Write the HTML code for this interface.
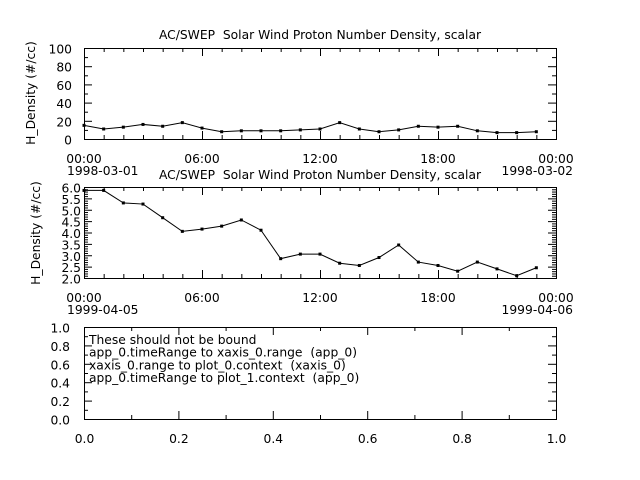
<!DOCTYPE html>
<html><head><style>body{margin:0;background:#fff}svg{display:block}text{font-family:"DejaVu Sans","Liberation Sans",sans-serif;font-size:12.3px;fill:#000}</style></head>
<body>
<svg id="s" width="640" height="480" xmlns="http://www.w3.org/2000/svg"></svg>
<script>
const s=document.getElementById('s');let h='';
const X0=84,X1=556,W=X1-X0;
function T(x,y,t,a,extra){h+=`<text x="${x}" y="${y}" text-anchor="${a||'start'}" ${extra||''}>${t}</text>`;}
function L(x1,y1,x2,y2){h+=`<line x1="${x1}" y1="${y1}" x2="${x2}" y2="${y2}" stroke="#000" stroke-width="1"/>`;}
function box(t,b){h+=`<rect x="${X0+.5}" y="${t+.5}" width="${W}" height="${b-t}" fill="none" stroke="#000"/>`;}
function timeAxis(b,date1,date2){
  const labs=['00:00','06:00','12:00','18:00','00:00'];
  for(let i=0;i<=24;i++){const x=X0+.5+W*i/24;L(x,b,x,b-(i%6==0?8:4));L(x,b-91,x,b-91+(i%6==0?8:4));}
  for(let i=0;i<5;i++){T(X0+W*i/4,b+24,labs[i],'middle');}
  T(X0-17,b+36,date1);T(X1+17,b+36,date2,'end');
}
function series(vals,fy){let p=vals.map((v,i)=>[X0+W*(i+.0)/24,fy(v)]);
 h+=`<polyline points="${p.map(q=>q.join(',')).join(' ')}" fill="none" stroke="#000" stroke-width="1"/>`;
 p.forEach(q=>h+=`<rect x="${q[0]-1.5}" y="${q[1]-1.5}" width="3" height="3" fill="#000"/>`);}
// plot 1
let t1=48,b1=139;box(t1,b1);
T(320,39,'AC/SWEP  Solar Wind Proton Number Density, scalar','middle','xml:space="preserve"');
for(let v=0;v<=100;v+=10){const y=b1-(b1-t1)*v/100+.5;L(X0,y,X0+(v%20==0?8:4),y);L(X1,y,X1-(v%20==0?8:4),y);if(v%20==0)T(X0-12,y+5,v,'end');}
timeAxis(b1,'1998-03-01','1998-03-02');
T(0,0,'H_Density (#/cc)','middle','transform="translate(35,93) rotate(-90)"');
series([15,11,13,16,14,18,12,8,9,9,9,10,11,18,11,8,10,14,13,14,9,7,7,8],v=>b1-(b1-t1)*v/100);
// plot 2
let t2=187,b2=278;box(t2,b2);
T(320,179,'AC/SWEP  Solar Wind Proton Number Density, scalar','middle','xml:space="preserve"');
for(let k=0;k<=40;k++){const v=2+k*0.1;const y=b2-(b2-t2)*k/40+.5;const big=k%5==0;L(X0,y,X0+(big?8:4),y);L(X1,y,X1-(big?8:4),y);if(big)T(X0-3,y+5,v.toFixed(1),'end');}
timeAxis(b2,'1999-04-05','1999-04-06');
T(0,0,'H_Density (#/cc)','middle','transform="translate(40,233) rotate(-90)"');
series([5.85,5.85,5.3,5.25,4.65,4.05,4.15,4.28,4.55,4.1,2.85,3.05,3.05,2.65,2.55,2.9,3.45,2.7,2.55,2.3,2.7,2.4,2.1,2.45],v=>b2-(b2-t2)*(v-2)/4);
// plot 3
let t3=327,b3=419;box(t3,b3);
for(let k=0;k<=10;k++){const y=b3-(b3-t3)*k/10+.5;const big=k%2==0;L(X0,y,X0+(big?8:4),y);L(X1,y,X1-(big?8:4),y);if(big)T(X0-14,y+5,(k/10).toFixed(1),'end');}
for(let k=0;k<=10;k++){const x=X0+W*k/10+.5;const big=k%2==0;L(x,b3,x,b3-(big?8:4));L(x,t3,x,t3+(big?8:4));if(big)T(x,b3+24,(k/10).toFixed(1),'middle');}
['These should not be bound','app_0.timeRange to xaxis_0.range  (app_0)','xaxis_0.range to plot_0.context  (xaxis_0)','app_0.timeRange to plot_1.context  (app_0)'].forEach((t,i)=>T(89,344+i*12.7,t,'start','xml:space="preserve"'));
s.innerHTML=h;
</script>
</body></html>
